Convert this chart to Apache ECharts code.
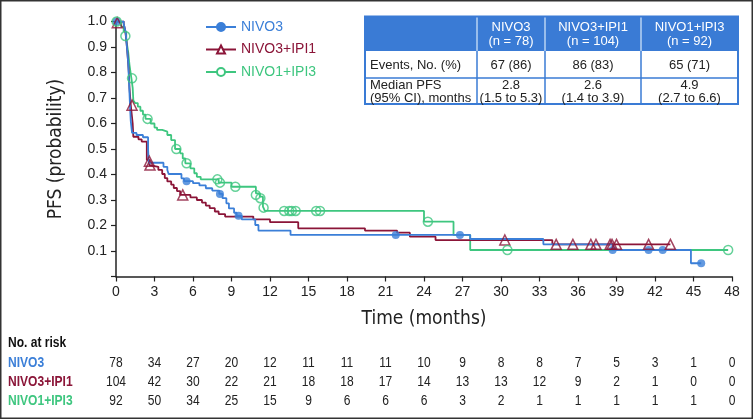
<!DOCTYPE html>
<html>
<head>
<meta charset="utf-8">
<script src="https://cdn.jsdelivr.net/npm/echarts@6/dist/echarts.min.js"></script>
<style>
html,body{margin:0;padding:0;background:#fff;}
#chart{width:754px;height:420px;}
</style>
</head>
<body>
<div id="chart"></div>
<script>
// ---------- DATA ----------
const seriesNames = ['NIVO3', 'NIVO3+IPI1', 'NIVO1+IPI3'];
const monthTicks = [0,3,6,9,12,15,18,21,24,27,30,33,36,39,42,45,48];

// Kaplan-Meier step points [month, PFS]
const kmNivo3 = [[0,1],[0.6,0.99],[0.75,0.96],[0.85,0.9],[0.95,0.84],[1.0,0.78],[1.05,0.72],[1.1,0.66],[1.15,0.61],[1.25,0.563],[1.6,0.555],[2.1,0.546],[2.5,0.5],[2.55,0.446],[3.7,0.43],[4.0,0.418],[4.1,0.402],[5.1,0.385],[5.3,0.374],[6.0,0.366],[6.5,0.357],[7.0,0.346],[7.5,0.337],[8.05,0.324],[8.3,0.307],[8.6,0.287],[8.8,0.267],[9.2,0.25],[9.4,0.238],[9.8,0.224],[10.85,0.202],[11.1,0.18],[13.6,0.163],[27.6,0.147],[33.3,0.126],[38.7,0.104],[44.8,0.052],[45.6,0.052]];
const kmNivo3Ipi1 = [[0,1],[0.6,0.99],[0.7,0.97],[0.8,0.93],[0.9,0.87],[1.0,0.8],[1.05,0.74],[1.15,0.672],[1.3,0.6],[1.35,0.548],[1.75,0.538],[2.0,0.529],[2.4,0.457],[2.6,0.437],[2.7,0.43],[3.3,0.418],[3.6,0.402],[3.8,0.386],[4.0,0.373],[4.3,0.36],[4.5,0.347],[4.75,0.335],[5.0,0.32],[5.8,0.31],[6.3,0.30],[6.7,0.29],[7.0,0.278],[7.3,0.268],[7.7,0.255],[8.0,0.245],[8.5,0.235],[10.7,0.224],[12.0,0.213],[14.2,0.189],[19.4,0.18],[21.9,0.172],[22.9,0.156],[24.9,0.143],[34.0,0.126],[43.2,0.126]];
const kmNivo1Ipi3 = [[0,1],[0.4,0.98],[0.6,0.96],[0.8,0.93],[0.95,0.88],[1.05,0.83],[1.2,0.777],[1.3,0.74],[1.35,0.69],[1.5,0.68],[1.7,0.666],[1.9,0.65],[2.1,0.635],[2.3,0.618],[2.7,0.6],[3.0,0.584],[3.2,0.575],[3.6,0.568],[4.0,0.555],[4.3,0.535],[4.6,0.5],[5.0,0.483],[5.2,0.463],[5.4,0.444],[5.8,0.424],[6.1,0.405],[6.3,0.391],[6.6,0.381],[8.0,0.368],[9.0,0.352],[10.9,0.326],[11.2,0.313],[11.45,0.274],[11.6,0.257],[24.0,0.215],[26.3,0.163],[27.6,0.104],[47.7,0.104]];

// censored observations [month, PFS]
const censNivo3 = [[0.05,1.0],[5.5,0.374],[8.1,0.324],[9.55,0.238],[21.8,0.163],[26.8,0.163],[38.7,0.104],[41.5,0.104],[42.6,0.104],[45.6,0.052]];
const censNivo3Ipi1 = [[0.1,0.995],[1.25,0.672],[2.6,0.452],[2.65,0.437],[5.2,0.32],[30.3,0.143],[34.3,0.126],[35.6,0.126],[37.0,0.126],[37.4,0.126],[38.5,0.126],[38.65,0.126],[39.0,0.126],[41.5,0.126],[43.2,0.126]];
const censNivo1Ipi3 = [[0.05,1.0],[0.73,0.943],[1.25,0.777],[2.46,0.618],[4.7,0.5],[5.5,0.444],[7.9,0.381],[8.1,0.368],[9.3,0.352],[10.9,0.32],[11.25,0.307],[11.5,0.27],[13.1,0.257],[13.5,0.257],[13.7,0.257],[14.0,0.257],[15.6,0.257],[15.9,0.257],[24.3,0.215],[30.5,0.104],[47.7,0.104]];

// Number at risk
const riskNivo3 = [78,34,27,20,12,11,11,11,10,9,8,8,7,5,3,1,0];
const riskNivo3Ipi1 = [104,42,30,22,21,18,18,17,14,13,13,12,9,2,1,0,0];
const riskNivo1Ipi3 = [92,50,34,25,15,9,6,6,6,3,2,1,1,1,1,1,0];

// Summary table
const tableHeader = ['NIVO3\n(n = 78)', 'NIVO3+IPI1\n(n = 104)', 'NIVO1+IPI3\n(n = 92)'];
const tableEvents = ['67 (86)', '86 (83)', '65 (71)'];
const tableMedian = ['2.8\n(1.5 to 5.3)', '2.6\n(1.4 to 3.9)', '4.9\n(2.7 to 6.6)'];
const tableRowLabels = ['Events, No. (%)', 'Median PFS\n(95% CI), months'];

// ---------- STYLE ----------
const colors = ['#3b7fd8', '#8b1538', '#3ec67f'];
const headBlue = '#3a7bd5';
const font = "'Liberation Sans', Arial, sans-serif";
const narrow = "'DejaVu Sans Condensed', 'Liberation Sans Narrow', 'Arial Narrow', sans-serif";

const chart = echarts.init(document.getElementById('chart'), null, {renderer: 'canvas'});

const kmSets = [kmNivo3, kmNivo3Ipi1, kmNivo1Ipi3];
const censSets = [censNivo3, censNivo3Ipi1, censNivo1Ipi3];
const legendSymbols = ['circle', 'emptyTriangle', 'emptyCircle'];
const censSymbols = ['circle', 'triangle', 'circle'];
const censSizes = [8, 10, 9];

const series = [];
kmSets.forEach((d, i) => {
  series.push({
    name: seriesNames[i], type: 'line', step: 'end', data: d,
    showSymbol: false, symbol: legendSymbols[i], symbolSize: 9,
    lineStyle: {color: colors[i], width: 1.8},
    itemStyle: {color: colors[i], borderColor: colors[i], borderWidth: 1.5},
    z: 3 - i, animation: false
  });
});
censSets.forEach((d, i) => {
  series.push({
    name: seriesNames[i] + ' censored', type: 'scatter', data: d,
    symbol: censSymbols[i], symbolSize: censSizes[i],
    itemStyle: i === 0 ? {color: colors[i]} : {color: 'rgba(255,255,255,0)', borderColor: colors[i], borderWidth: 1.5},
    z: 5, animation: false
  });
});

const option = {
  animation: false,
  textStyle: {fontFamily: font},
  grid: {left: 116, right: 22, top: 21.5, bottom: 143.5},
  legend: {
    data: seriesNames.map((n, i) => ({name: n, textStyle: {color: colors[i]}})),
    orient: 'vertical', left: 200, top: 15, itemWidth: 30, itemHeight: 10, itemGap: 8.5,
    textStyle: {fontSize: 14, fontFamily: font}, selectedMode: false
  },
  xAxis: {
    type: 'value', min: 0, max: 48, interval: 3,
    name: 'Time (months)', nameLocation: 'middle', nameGap: 33,
    nameTextStyle: {fontSize: 19, color: '#222', fontFamily: narrow},
    axisLine: {lineStyle: {color: '#222', width: 1.5}},
    axisTick: {length: 5, lineStyle: {color: '#222', width: 1.2}},
    axisLabel: {fontSize: 14, color: '#222', margin: 9},
    splitLine: {show: false}
  },
  yAxis: {
    type: 'value', min: 0, max: 1, interval: 0.1,
    name: 'PFS (probability)', nameLocation: 'middle', nameGap: 50,
    nameTextStyle: {fontSize: 19, color: '#222', fontFamily: narrow},
    axisLine: {show: true, lineStyle: {color: '#222', width: 1.5}},
    axisTick: {show: true, length: 5, lineStyle: {color: '#222', width: 1.2}},
    axisLabel: {fontSize: 14, color: '#222', margin: 9, formatter: v => v === 0 ? '' : v.toFixed(1)},
    splitLine: {show: false}
  },
  series: series
};
chart.setOption(option);

// ---------- GRAPHICS (frame, summary table, risk table) ----------
const g = [];
g.push({type: 'rect', shape: {x: 0.75, y: 0.75, width: 751.5, height: 417.5}, style: {fill: 'none', stroke: '#333', lineWidth: 1.5}, silent: true});

// summary table
const colX = [365, 477, 545, 641, 738];
const rowY = [16.5, 51, 78, 104];
g.push({type: 'rect', shape: {x: colX[0], y: rowY[0], width: colX[4] - colX[0], height: rowY[1] - rowY[0]}, style: {fill: headBlue}});
g.push({type: 'rect', shape: {x: colX[0], y: rowY[0], width: colX[4] - colX[0], height: rowY[3] - rowY[0]}, style: {fill: 'none', stroke: headBlue, lineWidth: 2}});
[rowY[2]].forEach(y => g.push({type: 'line', shape: {x1: colX[0], y1: y, x2: colX[4], y2: y}, style: {stroke: headBlue, lineWidth: 1.5}}));
[colX[1], colX[2], colX[3]].forEach(x => {
  g.push({type: 'line', shape: {x1: x, y1: rowY[0] + 1, x2: x, y2: rowY[1]}, style: {stroke: '#b9d3f3', lineWidth: 1.5}});
  g.push({type: 'line', shape: {x1: x, y1: rowY[1], x2: x, y2: rowY[3]}, style: {stroke: headBlue, lineWidth: 1.5}});
});
for (let c = 0; c < 3; c++) {
  const cx = (colX[c + 1] + colX[c + 2]) / 2;
  g.push({type: 'text', x: cx, y: (rowY[0] + rowY[1]) / 2 + 1, style: {text: tableHeader[c], fill: '#fff', font: '13px ' + font, align: 'center', verticalAlign: 'middle', lineHeight: 14}});
  g.push({type: 'text', x: cx, y: (rowY[1] + rowY[2]) / 2 + 1, style: {text: tableEvents[c], fill: '#222', font: '13px ' + font, align: 'center', verticalAlign: 'middle'}});
  g.push({type: 'text', x: cx, y: (rowY[2] + rowY[3]) / 2 + 1, style: {text: tableMedian[c], fill: '#222', font: '13px ' + font, align: 'center', verticalAlign: 'middle', lineHeight: 13}});
}
g.push({type: 'text', x: colX[0] + 5, y: (rowY[1] + rowY[2]) / 2 + 1, style: {text: tableRowLabels[0], fill: '#222', font: '13px ' + font, align: 'left', verticalAlign: 'middle'}});
g.push({type: 'text', x: colX[0] + 5, y: (rowY[2] + rowY[3]) / 2 + 1, style: {text: tableRowLabels[1], fill: '#222', font: '13px ' + font, align: 'left', verticalAlign: 'middle', lineHeight: 13}});

// risk table
const sx = 0.86;
g.push({type: 'text', x: 8, y: 343, scaleX: sx, style: {text: 'No. at risk', fill: '#111', font: 'bold 14px ' + font, align: 'left', verticalAlign: 'middle'}});
const riskSets = [riskNivo3, riskNivo3Ipi1, riskNivo1Ipi3];
const riskY = [363, 382, 401];
riskSets.forEach((arr, r) => {
  g.push({type: 'text', x: 8, y: riskY[r], scaleX: sx, style: {text: seriesNames[r], fill: colors[r], font: 'bold 14px ' + font, align: 'left', verticalAlign: 'middle'}});
  arr.forEach((v, k) => {
    const px = chart.convertToPixel({xAxisIndex: 0}, monthTicks[k]);
    g.push({type: 'text', x: px, y: riskY[r], scaleX: sx, style: {text: String(v), fill: '#222', font: '14px ' + font, align: 'center', verticalAlign: 'middle'}});
  });
});
chart.setOption({graphic: g.map(e => Object.assign({silent: true}, e))});
</script>
</body>
</html>
